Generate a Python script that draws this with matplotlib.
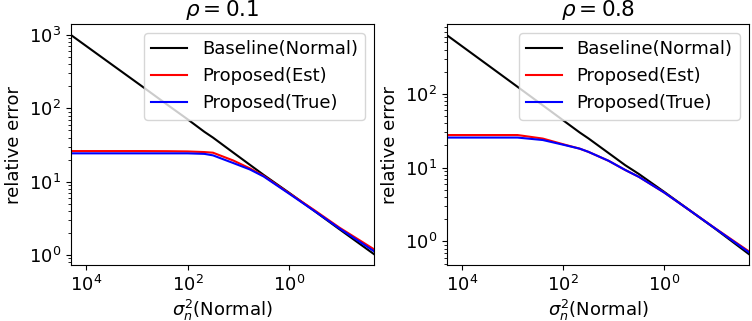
import matplotlib
matplotlib.use("Agg")
import matplotlib.pyplot as plt
from matplotlib.ticker import NullLocator

# noise variance grid (shared by both panels)
sigma2 = [20000, 3160, 794, 251, 100, 46.8, 31.6, 12.6, 5.89, 3.16, 1.0, 0.316, 0.1, 0.021]

# rho = 0.1
base_01 = [1000, 398, 200, 112, 71, 48, 40, 25, 17.0, 12.4, 7.1, 4.0, 2.24, 1.03]
est_01 = [26.2, 26.2, 26.2, 26.1, 25.9, 25.4, 24.9, 19.5, 15.2, 12.0, 7.0, 4.1, 2.36, 1.2]
true_01 = [24.4, 24.4, 24.4, 24.4, 24.4, 24.0, 22.9, 18.0, 14.7, 11.8, 6.9, 4.0, 2.3, 1.13]

# rho = 0.8
base_08 = [630, 250, 125, 70, 44, 30, 25, 15.8, 10.8, 8.2, 4.7, 2.65, 1.5, 0.67]
est_08 = [27.7, 27.7, 27.7, 24.8, 20.8, 18.1, 16.4, 12.4, 9.3, 7.5, 4.6, 2.65, 1.52, 0.73]
true_08 = [25.6, 25.6, 25.6, 23.7, 20.5, 18.1, 16.4, 12.4, 9.3, 7.5, 4.6, 2.65, 1.51, 0.71]

xticks = [1e4, 1e2, 1e0]

panels = [(r'$\rho=0.1$', base_01, est_01, true_01),
          (r'$\rho=0.8$', base_08, est_08, true_08)]

plt.rcParams['font.size'] = 13

fig = plt.figure(figsize=(7.52, 3.21), dpi=100)
ax1 = fig.add_axes([0.0944, 0.174, 0.403, 0.751])
ax2 = fig.add_axes([0.594, 0.174, 0.402, 0.751])

for ax, (title, base, est, true) in zip([ax1, ax2], panels):
    ax.plot(sigma2, base, 'k', label='Baseline(Normal)')
    ax.plot(sigma2, est, 'r', label='Proposed(Est)')
    ax.plot(sigma2, true, 'b', label='Proposed(True)')
    ax.set_xscale('log')
    ax.set_yscale('log')
    ax.set_xlim(sigma2[0], sigma2[-1])
    ax.set_xticks(xticks)
    ax.xaxis.set_minor_locator(NullLocator())
    ax.set_xlabel(r'$\sigma_n^2$(Normal)', labelpad=2)
    ax.set_ylabel('relative error')
    ax.set_title(title, fontsize=15.5)
    ax.legend(loc='upper right')

fig.savefig('out.png', dpi=100)
